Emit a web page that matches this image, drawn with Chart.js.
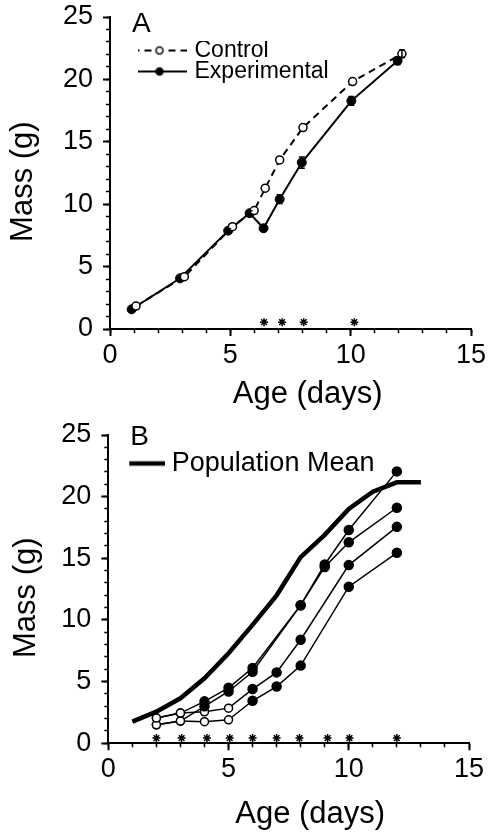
<!DOCTYPE html>
<html>
<head>
<meta charset="utf-8">
<script src="https://cdn.jsdelivr.net/npm/chart.js@4.4.1/dist/chart.umd.min.js"></script>
<style>
  html, body { margin: 0; padding: 0; background: #fff; }
  canvas { display: block; }
</style>
</head>
<body>
<canvas id="chartA" width="493" height="420"></canvas>
<canvas id="chartB" width="493" height="413"></canvas>
<script>
// axis ticks (labelled)
const xTickValues = [0, 5, 10, 15];
const yTickValues = [0, 5, 10, 15, 20, 25];

// panel A: control vs experimental
const ageControl = [1.08, 3.09, 5.09, 5.99, 6.45, 7.05, 8.02, 10.08, 12.13];
const massControl = [1.84, 4.19, 8.2, 9.49, 11.28, 13.55, 16.14, 19.83, 22.05];
const errControl = [0, 0, 0, 0, 0, 0, 0, 0, 0.3];
const ageExp = [0.9, 2.91, 4.91, 5.8, 6.38, 7.05, 7.97, 10.03, 11.95];
const massExp = [1.58, 4.06, 7.88, 9.28, 8.07, 10.4, 13.34, 18.28, 21.5];
const errExp = [0, 0, 0.15, 0.2, 0.2, 0.35, 0.45, 0.35, 0.3];
const starAgeA = [6.4, 7.15, 8.05, 10.15];
const starLevelA = 0.55;

// panel B: population mean and four animals
const ageMean = [1, 2, 3, 4, 5, 6, 7, 8, 9, 10, 11, 12, 13];
const massMean = [1.76, 2.57, 3.65, 5.27, 7.3, 9.6, 12.0, 15.1, 16.9, 19.0, 20.4, 21.16, 21.16];
const ageAnimal1 = [2, 3, 4, 5, 6, 8, 9, 10, 12];
const massAnimal1 = [2.05, 2.45, 3.4, 4.5, 6.1, 11.2, 14.5, 17.3, 22.05];
const ageAnimal2 = [2, 3, 4, 5, 6, 8, 9, 10, 12];
const massAnimal2 = [1.5, 1.8, 3.0, 4.2, 5.8, 11.2, 14.3, 16.3, 19.1];
const ageAnimal3 = [2, 3, 4, 5, 6, 7, 8, 10, 12];
const massAnimal3 = [2.05, 2.45, 2.55, 2.85, 4.4, 5.75, 8.4, 14.45, 17.55];
const ageAnimal4 = [2, 3, 4, 5, 6, 7, 8, 10, 12];
const massAnimal4 = [1.5, 1.8, 1.75, 1.9, 3.45, 4.6, 6.3, 12.7, 15.45];
const openCount = [2, 2, 4, 4]; // leading points drawn as open circles
const starAgeB = [2, 3.05, 4.1, 5.05, 6, 7, 7.95, 9.12, 10.03, 12];
const starLevelB = 0.42;

Chart.defaults.font.family = '"Liberation Sans", Arial, sans-serif';
Chart.defaults.color = '#000';

const pts = (xs, ys) => xs.map((x, i) => ({x: x, y: ys[i]}));

function legendKey(width, dash, lineWidth, fill) {
    const c = document.createElement('canvas');
    c.width = width;
    c.height = 12;
    const g = c.getContext('2d');
    g.strokeStyle = '#000';
    g.lineWidth = lineWidth;
    g.setLineDash(dash);
    g.beginPath();
    g.moveTo(0, 6);
    g.lineTo(width, 6);
    g.stroke();
    if (fill) {
        g.setLineDash([]);
        g.lineWidth = 1.5;
        g.fillStyle = fill;
        g.beginPath();
        g.arc(width / 2, 6, 3.5, 0, Math.PI * 2);
        g.fill();
        g.stroke();
    }
    return c;
}

function makeScales(xAxisHeight, yAxisWidth, xTitlePad, yTitlePad, xTitle, yTitle) {
    const tickFont = {size: 27};
    const titleFont = {size: 31};
    const minor = {drawOnChartArea: false, tickLength: 4, tickWidth: 1.5, tickColor: '#000'};
    return {
        x: {
            type: 'linear', position: 'bottom', weight: 1, min: 0, max: 15,
            afterBuildTicks: s => { s.ticks = xTickValues.map(v => ({value: v})); },
            ticks: {font: tickFont, padding: 3, maxRotation: 0, autoSkip: false},
            grid: {drawOnChartArea: false, tickLength: 7, tickWidth: 2, tickColor: '#000'},
            border: {color: '#000', width: 2},
            title: {display: true, text: xTitle, font: titleFont, padding: {top: 0, bottom: xTitlePad}},
            afterFit: s => { s.height = xAxisHeight; s.paddingLeft = 0; s.paddingRight = 0; }
        },
        x2: {
            type: 'linear', position: 'bottom', weight: 0, min: 0, max: 15,
            ticks: {display: false, stepSize: 1},
            grid: minor,
            border: {display: false},
            afterFit: s => { s.height = 0; s.paddingLeft = 0; s.paddingRight = 0; }
        },
        y: {
            type: 'linear', position: 'left', weight: 1, min: 0, max: 25,
            afterBuildTicks: s => { s.ticks = yTickValues.map(v => ({value: v})); },
            ticks: {font: tickFont, padding: 10},
            grid: {drawOnChartArea: false, tickLength: 7, tickWidth: 2, tickColor: '#000'},
            border: {color: '#000', width: 2},
            title: {display: true, text: yTitle, font: titleFont, padding: {top: yTitlePad, bottom: 0}},
            afterFit: s => { s.width = yAxisWidth; s.paddingTop = 0; s.paddingBottom = 0; }
        },
        y2: {
            type: 'linear', position: 'left', weight: 0, min: 0, max: 25,
            ticks: {display: false, stepSize: 1},
            grid: minor,
            border: {display: false},
            afterFit: s => { s.width = 0; s.paddingTop = 0; s.paddingBottom = 0; }
        }
    };
}

const errorBars = {
    id: 'errorBars',
    afterDatasetsDraw(chart) {
        const {ctx, scales: {x, y}} = chart;
        chart.data.datasets.forEach(ds => {
            if (!ds.errors) return;
            ctx.save();
            ctx.strokeStyle = '#000';
            ctx.lineWidth = 1.5;
            ds.data.forEach((p, j) => {
                const e = ds.errors[j];
                if (!e) return;
                const px = x.getPixelForValue(p.x), t = y.getPixelForValue(p.y + e), b = y.getPixelForValue(p.y - e);
                ctx.beginPath();
                ctx.moveTo(px, t); ctx.lineTo(px, b);
                ctx.moveTo(px - 3, t); ctx.lineTo(px + 3, t);
                ctx.moveTo(px - 3, b); ctx.lineTo(px + 3, b);
                ctx.stroke();
            });
            ctx.restore();
        });
    }
};

const panelLetter = {
    id: 'panelLetter',
    afterDraw(chart, args, opts) {
        const {ctx, chartArea} = chart;
        ctx.save();
        ctx.font = '28px "Liberation Sans", Arial, sans-serif';
        ctx.fillStyle = '#000';
        ctx.fillText(opts.text, chartArea.left + opts.dx, chartArea.top + opts.dy);
        ctx.restore();
    }
};

// place the in-area legend relative to the plot corner
const legendShift = {
    id: 'legendShift',
    afterLayout(chart, args, opts) {
        chart.legend.left = chart.chartArea.left + opts.dx;
        chart.legend.top = chart.chartArea.top + opts.dy;
    }
};

const keyControl = legendKey(54, [7, 5], 2, '#fff');
const keyExp = legendKey(54, [], 2, '#000');
const keyMean = legendKey(42, [], 4.5, null);

new Chart(document.getElementById('chartA'), {
    type: 'scatter',
    plugins: [errorBars, panelLetter, legendShift],
    data: {
        datasets: [
            {
                label: 'Control',
                data: pts(ageControl, massControl),
                errors: errControl,
                showLine: true,
                borderColor: '#000', borderWidth: 2, borderDash: [7, 5],
                pointRadius: 4, pointBorderWidth: 1.5,
                pointBackgroundColor: '#fff', pointBorderColor: '#000'
            },
            {
                label: 'Experimental',
                data: pts(ageExp, massExp),
                errors: errExp,
                showLine: true,
                borderColor: '#000', borderWidth: 2,
                pointRadius: 4.5, pointBorderWidth: 1,
                pointBackgroundColor: '#000', pointBorderColor: '#000'
            },
            {
                label: 'sig',
                data: starAgeA.map(x => ({x: x, y: starLevelA})),
                pointStyle: 'star', pointRadius: 4, pointBorderWidth: 1.5,
                pointBorderColor: '#000', borderColor: '#000'
            }
        ]
    },
    options: {
        responsive: false,
        animation: false,
        devicePixelRatio: 1,
        layout: {padding: {top: 17, right: 22, left: 0, bottom: 0}},
        scales: makeScales(91, 110, 7, 5, '    Age (days)', 'Mass (g)  '),
        plugins: {
            tooltip: {enabled: false},
            panelLetter: {text: 'A', dx: 22, dy: 15},
            legendShift: {dx: 28, dy: 24},
            legend: {
                position: 'chartArea',
                align: 'start',
                labels: {
                    usePointStyle: true, pointStyleWidth: 47, padding: -2,
                    font: {size: 23},
                    generateLabels: () => [
                        {text: 'Control', pointStyle: keyControl, fillStyle: '#fff', strokeStyle: '#000', lineWidth: 0, hidden: false, datasetIndex: 0},
                        {text: 'Experimental', pointStyle: keyExp, fillStyle: '#000', strokeStyle: '#000', lineWidth: 0, hidden: false, datasetIndex: 1}
                    ]
                }
            }
        }
    }
});

const animalStyle = (n) => ({
    showLine: true,
    borderColor: '#000', borderWidth: 1.5,
    pointRadius: ctx => ctx.dataIndex < openCount[n] ? 4 : 4.5,
    pointBorderWidth: 1.5,
    pointBorderColor: '#000',
    pointBackgroundColor: ctx => ctx.dataIndex < openCount[n] ? '#fff' : '#000'
});

new Chart(document.getElementById('chartB'), {
    type: 'scatter',
    plugins: [panelLetter, legendShift],
    data: {
        datasets: [
            {
                label: 'Population Mean',
                data: pts(ageMean, massMean),
                showLine: true,
                borderColor: '#000', borderWidth: 4.5,
                pointRadius: 0
            },
            Object.assign({label: 'a1', data: pts(ageAnimal1, massAnimal1)}, animalStyle(0)),
            Object.assign({label: 'a2', data: pts(ageAnimal2, massAnimal2)}, animalStyle(1)),
            Object.assign({label: 'a3', data: pts(ageAnimal3, massAnimal3)}, animalStyle(2)),
            Object.assign({label: 'a4', data: pts(ageAnimal4, massAnimal4)}, animalStyle(3)),
            {
                label: 'sig',
                data: starAgeB.map(x => ({x: x, y: starLevelB})),
                pointStyle: 'star', pointRadius: 4, pointBorderWidth: 1.5,
                pointBorderColor: '#000', borderColor: '#000'
            }
        ]
    },
    options: {
        responsive: false,
        animation: false,
        devicePixelRatio: 1,
        layout: {padding: {top: 15, right: 24, left: 0, bottom: 0}},
        scales: makeScales(89.7, 108.3, 0, 8, '     Age (days)', 'Mass (g)  '),
        plugins: {
            tooltip: {enabled: false},
            panelLetter: {text: 'B', dx: 22, dy: 10},
            legendShift: {dx: 21, dy: 15},
            legend: {
                position: 'chartArea',
                align: 'start',
                labels: {
                    usePointStyle: true, pointStyleWidth: 29, padding: 0,
                    font: {size: 27},
                    generateLabels: () => [
                        {text: 'Population Mean', pointStyle: keyMean, fillStyle: '#000', strokeStyle: '#000', lineWidth: 0, hidden: false, datasetIndex: 0}
                    ]
                }
            }
        }
    }
});
</script>
</body>
</html>
